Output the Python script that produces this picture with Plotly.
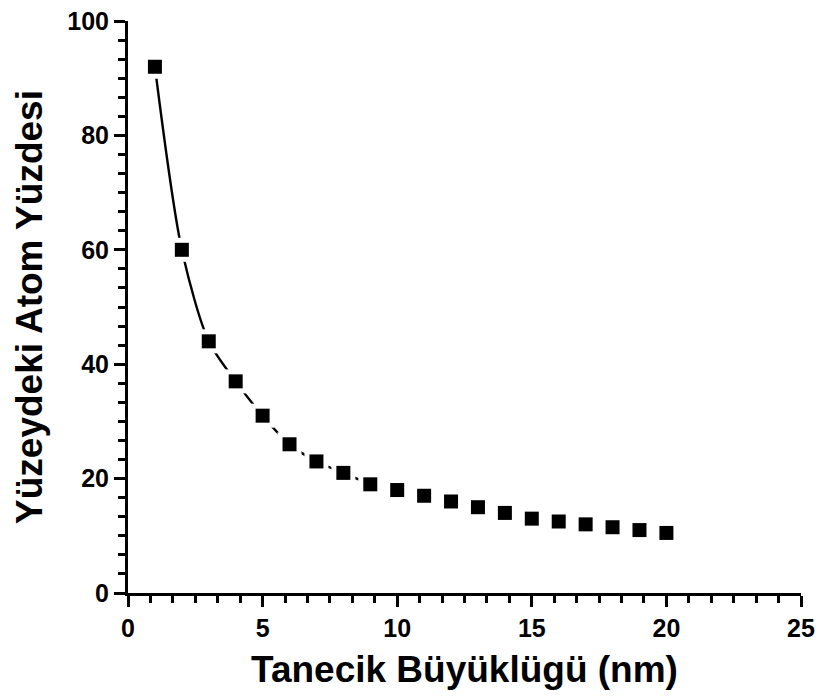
import plotly.graph_objects as go

x_nm = [1, 2, 3, 4, 5, 6, 7, 8, 9, 10, 11, 12, 13, 14, 15, 16, 17, 18, 19, 20]
y_pct = [92, 60, 44, 37, 31, 26, 23, 21, 19, 18, 17, 16, 15, 14, 13, 12.5, 12, 11.5, 11, 10.5]
n_line = 9  # the drawn curve spans the first nine points

FONT = "Liberation Sans"

# five minor ticks between neighbouring major ticks
x_minor = [i * 5 / 6 for i in range(31) if i % 6]
y_minor = [i * 20 / 6 for i in range(31) if i % 6]

fig = go.Figure()
fig.add_trace(go.Scatter(x=x_nm[:n_line], y=y_pct[:n_line], mode="lines",
                         line=dict(color="black", width=2.4, shape="spline", smoothing=0.8),
                         hoverinfo="skip", showlegend=False))
fig.add_trace(go.Scatter(x=x_nm, y=y_pct, mode="markers",
                         marker=dict(symbol="square", size=24, color="white", line=dict(width=0)),
                         hoverinfo="skip", showlegend=False))
fig.add_trace(go.Scatter(x=x_nm, y=y_pct, mode="markers",
                         marker=dict(symbol="square", size=14, color="black", line=dict(width=0)),
                         showlegend=False))

axis_common = dict(showline=True, linewidth=3, linecolor="black", showgrid=False, zeroline=False,
                   ticks="outside", ticklen=11, tickwidth=2.5, tickcolor="black", automargin=False,
                   tickfont=dict(family=FONT, size=25, color="black", weight="bold"))

fig.update_xaxes(range=[0, 25], dtick=5, tick0=0,
                 minor=dict(ticks="outside", ticklen=7, tickwidth=2.5, tickcolor="black",
                            tickmode="array", tickvals=x_minor, showgrid=False),
                 title=dict(text="Tanecik Büyüklügü (nm)", standoff=16,
                            font=dict(family=FONT, size=37, color="black", weight="bold")),
                 **axis_common)
fig.update_yaxes(range=[0, 100], dtick=20, tick0=0,
                 minor=dict(ticks="outside", ticklen=7, tickwidth=2.5, tickcolor="black",
                            tickmode="array", tickvals=y_minor, showgrid=False),
                 title=dict(text="Yüzeydeki Atom Yüzdesi", standoff=14,
                            font=dict(family=FONT, size=37, color="black", weight="bold")),
                 **axis_common)

fig.update_layout(width=818, height=698, plot_bgcolor="white", paper_bgcolor="white",
                  margin=dict(l=128, r=17, t=21, b=105), showlegend=False)

fig.write_html("out.html")
